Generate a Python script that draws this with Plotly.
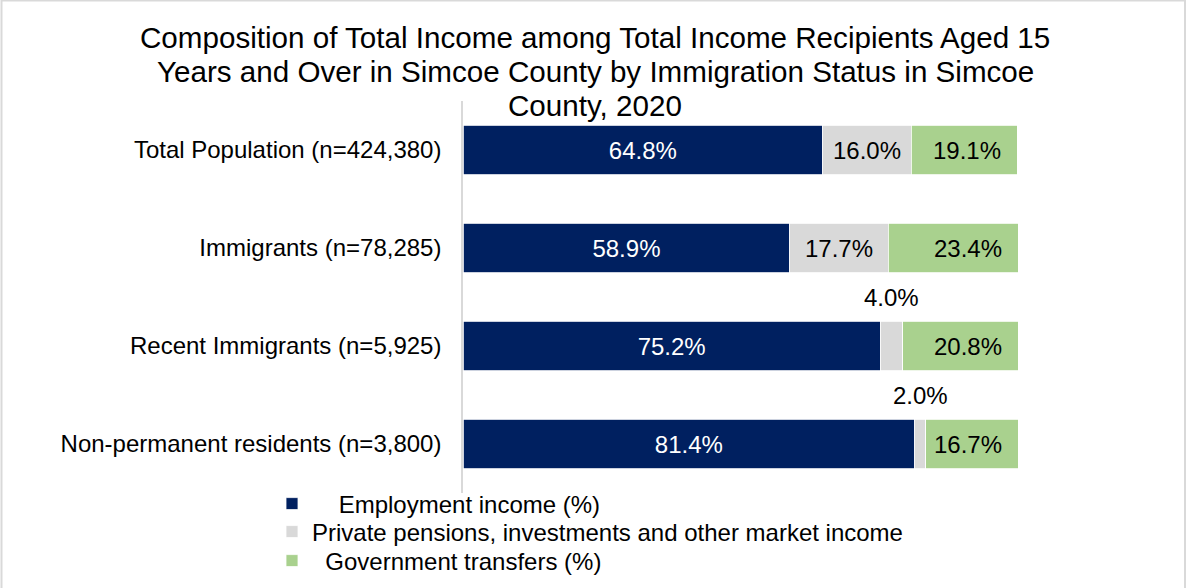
import plotly.graph_objects as go

# Income composition by immigration status, Simcoe County, 2020 (shares in %)
categories = [
    "Total Population (n=424,380)",
    "Immigrants (n=78,285)",
    "Recent Immigrants (n=5,925)",
    "Non-permanent residents (n=3,800)",
]
employment = [64.8, 58.9, 75.2, 81.4]
private_market = [16.0, 17.7, 4.0, 2.0]
government = [19.1, 23.4, 20.8, 16.7]

series_names = [
    "\u00a0\u00a0\u00a0\u00a0Employment income (%)",
    "Private pensions, investments and other market income",
    "\u00a0\u00a0Government transfers (%)",
]
colors = ["#002060", "#d9d9d9", "#a9d18e"]

title_lines = [
    "Composition of Total Income among Total Income Recipients Aged 15",
    "Years and Over in Simcoe County by Immigration Status in Simcoe",
    "County, 2020",
]

FONT = "Arial, 'Liberation Sans', sans-serif"
LABEL_SIZE = 24
W, H = 1186, 588
L, R, T, B = 463, 168, 101, 95
plot_w, plot_h = W - L - R, H - T - B

# Segments too thin to hold a label get theirs placed above the bar instead
MIN_INSIDE = 8.0


def px_x(px):
    """Pixel column -> paper x."""
    return (px - L) / plot_w


def px_y(py):
    """Pixel row -> paper y."""
    return 1 - (py - T) / plot_h


fig = go.Figure()

fig.add_trace(go.Bar(
    y=categories, x=employment, orientation="h", name=series_names[0],
    legend="legend",
    marker=dict(color=colors[0], line=dict(color="white", width=0.8)),
    text=[f"{v:.1f}%" for v in employment], textposition="inside",
    insidetextanchor="middle",
    textfont=dict(color="white", size=LABEL_SIZE, family=FONT),
))
fig.add_trace(go.Bar(
    y=categories, x=private_market, orientation="h", name=series_names[1],
    legend="legend2",
    marker=dict(color=colors[1], line=dict(color="white", width=0.8)),
    text=[f"{v:.1f}%" if v >= MIN_INSIDE else "" for v in private_market],
    textposition="inside", insidetextanchor="middle",
    textfont=dict(color="black", size=LABEL_SIZE, family=FONT),
))
fig.add_trace(go.Bar(
    y=categories, x=government, orientation="h", name=series_names[2],
    legend="legend3",
    marker=dict(color=colors[2], line=dict(color="white", width=0.8)),
    textposition="none",
))

annotations = []
for cat, e, p, g in zip(categories, employment, private_market, government):
    # Government-transfer labels sit toward the inner end of their segment
    annotations.append(dict(
        x=min(e + p + g, 100.0), y=cat, xref="x", yref="y", text=f"{g:.1f}%",
        showarrow=False, xanchor="right", xshift=-14,
        font=dict(color="black", size=LABEL_SIZE, family=FONT),
    ))
    if p < MIN_INSIDE:
        annotations.append(dict(
            x=e + p / 2, y=cat, xref="x", yref="y", text=f"{p:.1f}%",
            showarrow=False, xanchor="center", yshift=49,
            font=dict(color="black", size=LABEL_SIZE, family=FONT),
        ))

# Three-line chart heading with tight line spacing
for line, cy in zip(title_lines, [38, 72, 105]):
    annotations.append(dict(
        x=px_x(595), y=px_y(cy), xref="paper", yref="paper", text=line,
        showarrow=False, xanchor="center", yanchor="middle",
        font=dict(color="black", size=29.6, family=FONT),
    ))

# Thin light-grey frame around the whole chart
shapes = [dict(
    type="rect", xref="paper", yref="paper",
    x0=px_x(1.5), x1=px_x(1185), y0=px_y(600), y1=px_y(0.5),
    line=dict(color="#d9d9d9", width=2), fillcolor="rgba(0,0,0,0)", layer="below",
)]


def legend_box(center_px):
    # One single-entry legend per series, stacked closely below the plot
    return dict(
        orientation="v", x=px_x(272), xanchor="left",
        y=px_y(center_px), yanchor="middle",
        font=dict(size=LABEL_SIZE, family=FONT, color="black"),
        bgcolor="rgba(0,0,0,0)", itemwidth=30,
    )


n_cat = len(categories)
fig.update_layout(
    width=W, height=H,
    margin=dict(l=L, r=R, t=T, b=B, pad=0, autoexpand=False),
    barmode="stack", bargap=0.49,
    paper_bgcolor="white", plot_bgcolor="white",
    font=dict(family=FONT, color="black", size=LABEL_SIZE),
    xaxis=dict(range=[0, 100], visible=False, fixedrange=True),
    yaxis=dict(
        categoryorder="array", categoryarray=categories,
        range=[n_cat - 0.5, -0.5], autorange=False,
        showline=True, linecolor="#d9d9d9", linewidth=1.5,
        ticks="", ticklabelstandoff=15, showgrid=False,
        tickfont=dict(size=LABEL_SIZE, family=FONT, color="black"),
    ),
    legend=legend_box(504),
    legend2=legend_box(532),
    legend3=legend_box(561),
    annotations=annotations,
    shapes=shapes,
    showlegend=True,
)

fig.write_html("out.html")
